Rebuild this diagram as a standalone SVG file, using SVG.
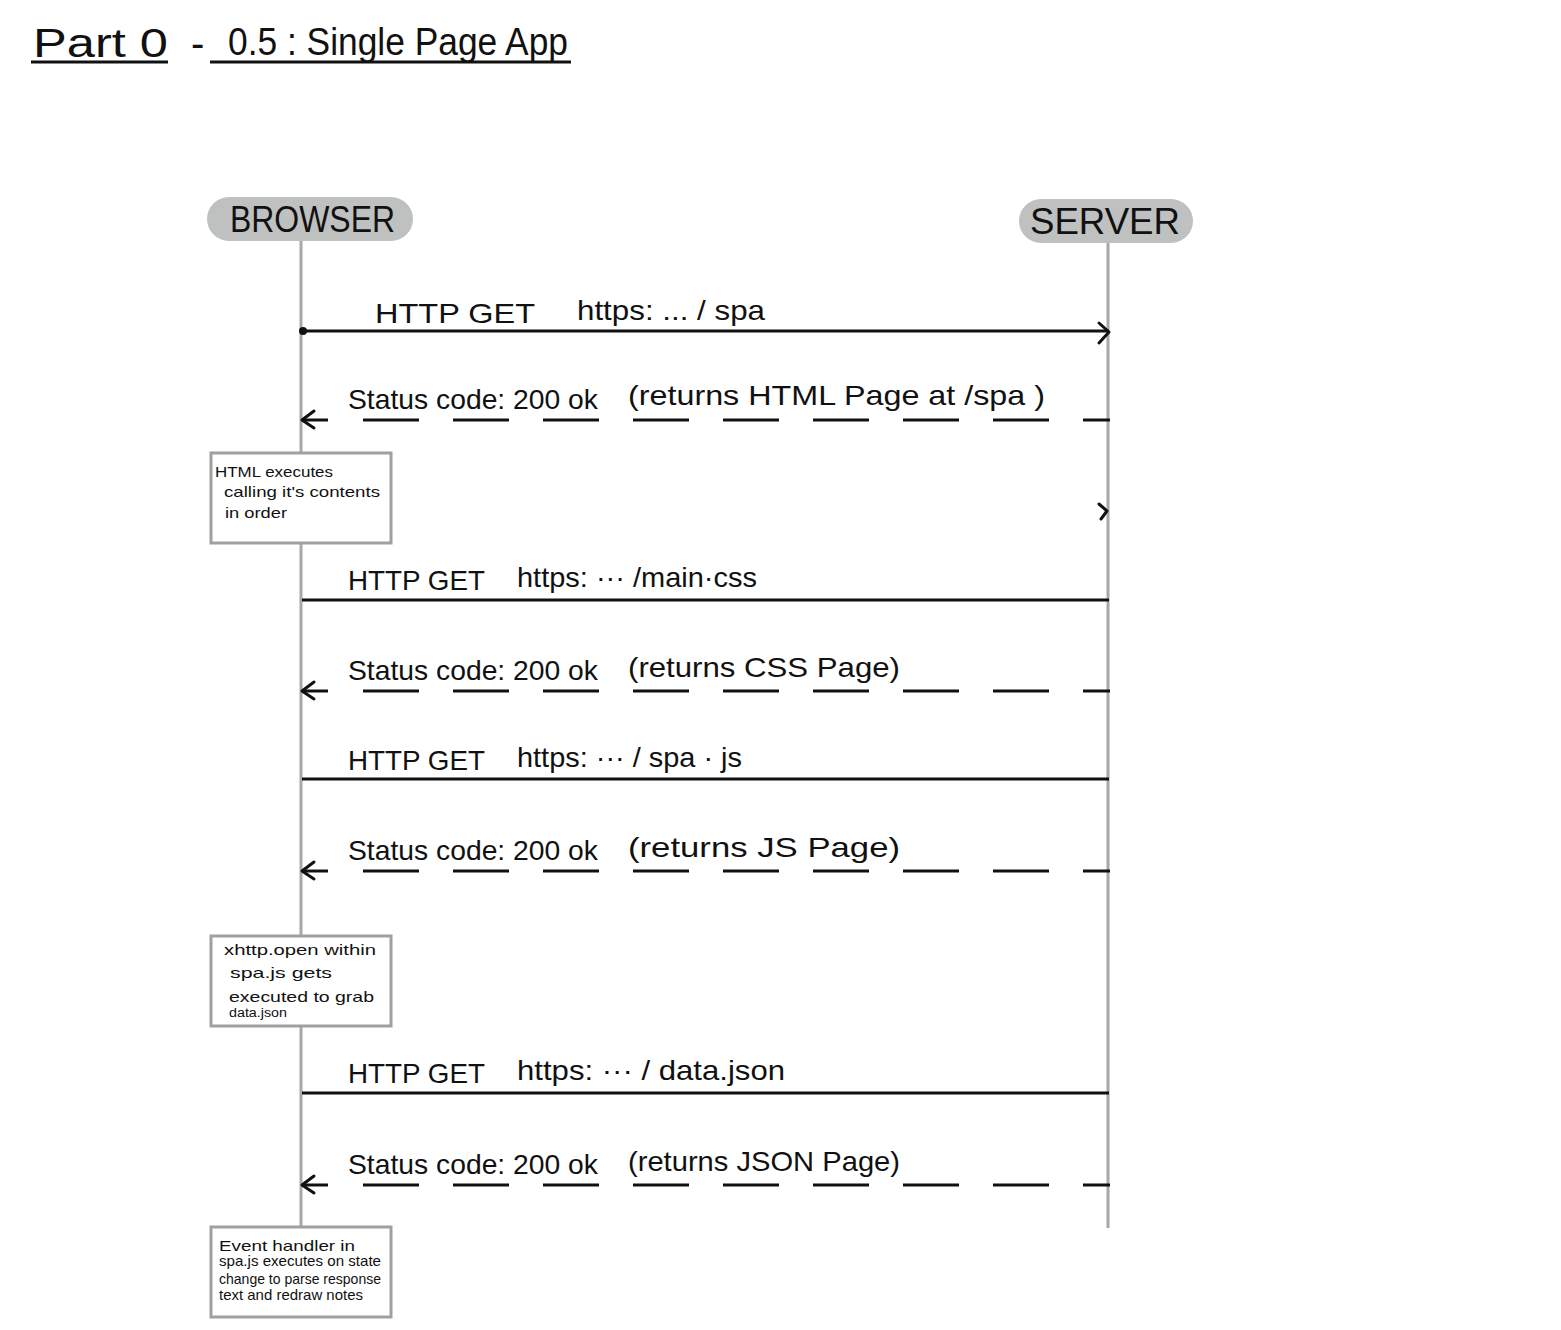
<svg xmlns="http://www.w3.org/2000/svg" width="1561" height="1330" viewBox="0 0 1561 1330">
<style>
.t{font-family:"Liberation Sans","DejaVu Sans",sans-serif;fill:#111}
.lbl{font-size:28px}
.note{font-size:15px}
.pill{fill:#bfc1c1}
.life{stroke:#a8a8a8;stroke-width:3;fill:none}
.msg{stroke:#111;stroke-width:3;fill:none}
.dash{stroke:#111;stroke-width:3;fill:none;stroke-dasharray:56 34}
.head{stroke:#111;stroke-width:3;fill:none;stroke-linecap:round;stroke-linejoin:round}
.box{fill:#fff;stroke:#a0a0a0;stroke-width:3}
</style>
<rect width="1561" height="1330" fill="#fff"/>
<g id="title">
<text class="t" x="33" y="57" font-size="40" textLength="135" lengthAdjust="spacingAndGlyphs">Part 0</text>
<text class="t" x="191" y="57" font-size="40">-</text>
<text class="t" x="228" y="55" font-size="38" textLength="340" lengthAdjust="spacingAndGlyphs">0.5 : Single Page App</text>
<line x1="31" y1="62" x2="168" y2="62" class="msg"/>
<line x1="210" y1="62" x2="571" y2="62" class="msg"/>
</g>
<g id="connectors">
<line class="life" x1="301" y1="241" x2="301" y2="1228"/>
<line class="life" x1="1108" y1="243" x2="1108" y2="1228"/>
<circle cx="303" cy="331" r="4" fill="#111"/>
<line class="msg" x1="303" y1="331" x2="1109" y2="331"/>
<polyline class="head" points="1099,323 1109,332 1099,343"/>
<line class="dash" x1="363" y1="420" x2="1110" y2="420"/>
<polyline class="head" points="314,411 302,420 314,428"/>
<line class="msg" x1="302" y1="420" x2="328" y2="420"/>
<polyline class="head" points="1099,504 1107,511 1101,519"/>
<line class="msg" x1="302" y1="600" x2="1109" y2="600"/>
<line class="dash" x1="363" y1="691" x2="1110" y2="691"/>
<polyline class="head" points="314,682 302,691 314,699"/>
<line class="msg" x1="302" y1="691" x2="328" y2="691"/>
<line class="msg" x1="302" y1="779" x2="1109" y2="779"/>
<line class="dash" x1="363" y1="871" x2="1110" y2="871"/>
<polyline class="head" points="314,862 302,871 314,879"/>
<line class="msg" x1="302" y1="871" x2="328" y2="871"/>
<line class="msg" x1="302" y1="1093" x2="1109" y2="1093"/>
<line class="dash" x1="363" y1="1185" x2="1110" y2="1185"/>
<polyline class="head" points="314,1176 302,1185 314,1193"/>
<line class="msg" x1="302" y1="1185" x2="328" y2="1185"/>
</g>
<g id="browser">
<rect class="pill" x="207" y="197" width="206" height="44" rx="22"/>
<text class="t" x="230" y="232" font-size="36" textLength="165" lengthAdjust="spacingAndGlyphs">BROWSER</text>
</g>
<g id="server">
<rect class="pill" x="1019" y="199" width="174" height="44" rx="22"/>
<text class="t" x="1030" y="234" font-size="36" textLength="150" lengthAdjust="spacingAndGlyphs">SERVER</text>
</g>
<g id="labels">
<text class="t lbl" x="375" y="323" textLength="160" lengthAdjust="spacingAndGlyphs">HTTP GET</text>
<text class="t lbl" x="577" y="320" textLength="188" lengthAdjust="spacingAndGlyphs">https: ... / spa</text>
<text class="t lbl" x="348" y="409" textLength="250" lengthAdjust="spacingAndGlyphs">Status code: 200 ok</text>
<text class="t lbl" x="628" y="405" textLength="417" lengthAdjust="spacingAndGlyphs">(returns HTML Page at /spa )</text>
<text class="t lbl" x="348" y="590" textLength="137" lengthAdjust="spacingAndGlyphs">HTTP GET</text>
<text class="t lbl" x="517" y="587" textLength="240" lengthAdjust="spacingAndGlyphs">https: ··· /main·css</text>
<text class="t lbl" x="348" y="680" textLength="250" lengthAdjust="spacingAndGlyphs">Status code: 200 ok</text>
<text class="t lbl" x="628" y="677" textLength="272" lengthAdjust="spacingAndGlyphs">(returns CSS Page)</text>
<text class="t lbl" x="348" y="770" textLength="137" lengthAdjust="spacingAndGlyphs">HTTP GET</text>
<text class="t lbl" x="517" y="767" textLength="225" lengthAdjust="spacingAndGlyphs">https: ··· / spa · js</text>
<text class="t lbl" x="348" y="860" textLength="250" lengthAdjust="spacingAndGlyphs">Status code: 200 ok</text>
<text class="t lbl" x="628" y="857" textLength="272" lengthAdjust="spacingAndGlyphs">(returns JS Page)</text>
<text class="t lbl" x="348" y="1083" textLength="137" lengthAdjust="spacingAndGlyphs">HTTP GET</text>
<text class="t lbl" x="517" y="1080" textLength="268" lengthAdjust="spacingAndGlyphs">https: ··· / data.json</text>
<text class="t lbl" x="348" y="1174" textLength="250" lengthAdjust="spacingAndGlyphs">Status code: 200 ok</text>
<text class="t lbl" x="628" y="1171" textLength="272" lengthAdjust="spacingAndGlyphs">(returns JSON Page)</text>
</g>
<g id="note1">
<rect class="box" x="211" y="453" width="180" height="90"/>
<text class="t note" x="215" y="477" textLength="118" lengthAdjust="spacingAndGlyphs">HTML executes</text>
<text class="t note" x="224" y="497" textLength="156" lengthAdjust="spacingAndGlyphs">calling it's contents</text>
<text class="t note" x="225" y="518" textLength="62" lengthAdjust="spacingAndGlyphs">in order</text>
</g>
<g id="note2">
<rect class="box" x="211" y="936" width="180" height="90"/>
<text class="t note" x="224" y="955" textLength="152" lengthAdjust="spacingAndGlyphs">xhttp.open within</text>
<text class="t note" x="230" y="978" textLength="102" lengthAdjust="spacingAndGlyphs">spa.js gets</text>
<text class="t note" x="229" y="1002" textLength="145" lengthAdjust="spacingAndGlyphs">executed to grab</text>
<text class="t" x="229" y="1017" font-size="12" textLength="58" lengthAdjust="spacingAndGlyphs">data.json</text>
</g>
<g id="note3">
<rect class="box" x="211" y="1227" width="180" height="90"/>
<text class="t note" x="219" y="1251" textLength="136" lengthAdjust="spacingAndGlyphs">Event handler in</text>
<text class="t note" x="219" y="1266" textLength="162" lengthAdjust="spacingAndGlyphs">spa.js executes on state</text>
<text class="t note" x="219" y="1284" textLength="162" lengthAdjust="spacingAndGlyphs">change to parse response</text>
<text class="t note" x="219" y="1300" textLength="144" lengthAdjust="spacingAndGlyphs">text and redraw notes</text>
</g>
</svg>
